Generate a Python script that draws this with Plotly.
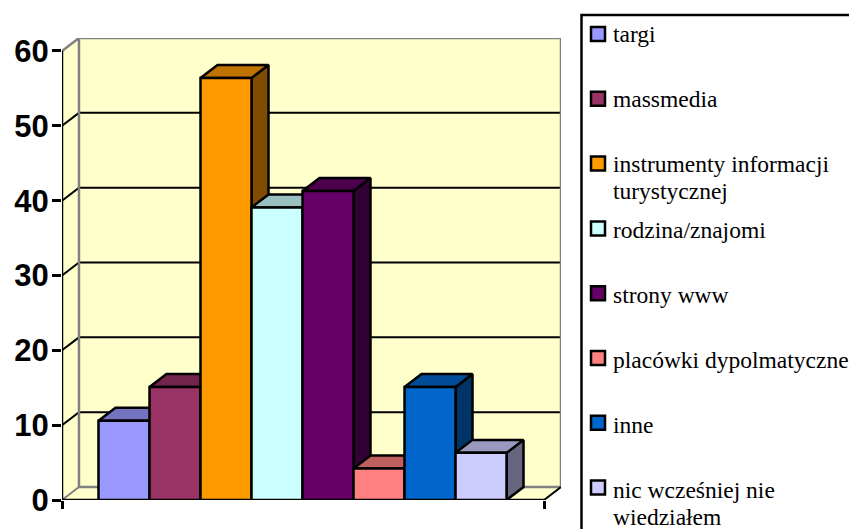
"""Polish survey 3D-look column chart with a hand-placed legend box."""

import plotly.graph_objects as go

W, H = 849, 529

CATEGORIES = [
    "targi",
    "massmedia",
    "instrumenty informacji<br>turystycznej",
    "rodzina/znajomi",
    "strony www",
    "placówki dypolmatyczne",
    "inne",
    "nic wcześniej nie<br>wiedziałem",
]
VALUES = [10.6, 15.1, 56.4, 39.1, 41.3, 4.2, 15.1, 6.3]
COLORS = ["#9999FF", "#993366", "#FF9900", "#CCFFFF", "#660066", "#FF8080", "#0066CC", "#CCCCFF"]
TICKS = [0, 10, 20, 30, 40, 50, 60]

WALL = "#FFFFCC"
EDGE = "#808080"

# scale of the drawing: 51 px per column, 7.5 px per unit
X_LEFT, X_RIGHT = -1.2157, 8.235
DEPTH_X, DEPTH_Y = 0.333, 1.733
Y_TOP = 60 + DEPTH_Y
PLOT_L, PLOT_R, PLOT_T, PLOT_B = 62, 561, 38, 500
OUTLINE = 2.5


def shade(color: str, k: float) -> str:
    r, g, b = (int(color[i : i + 2], 16) for i in (1, 3, 5))
    return f"rgb({r * k:.0f},{g * k:.0f},{b * k:.0f})"


def poly(fig, xs, ys, fill, line="#000000", width=OUTLINE):
    fig.add_trace(
        go.Scatter(
            x=xs + xs[:1],
            y=ys + ys[:1],
            mode="lines",
            fill="toself",
            fillcolor=fill,
            line=dict(color=line, width=width),
            cliponaxis=False,
            hoverinfo="skip",
            showlegend=False,
        )
    )


def stroke(fig, xs, ys, color="#000000", width=2):
    fig.add_trace(
        go.Scatter(
            x=xs,
            y=ys,
            mode="lines",
            line=dict(color=color, width=width),
            cliponaxis=False,
            hoverinfo="skip",
            showlegend=False,
        )
    )


fig = go.Figure()

back_l, back_r = X_LEFT + DEPTH_X, X_RIGHT + DEPTH_X

# walls and floor
poly(fig, [back_l, back_r, back_r, back_l], [DEPTH_Y, DEPTH_Y, Y_TOP, Y_TOP], WALL, WALL, 0)
poly(fig, [X_LEFT, back_l, back_l, X_LEFT], [0, DEPTH_Y, Y_TOP, 60], WALL, WALL, 0)
poly(fig, [X_LEFT, X_RIGHT, back_r, back_l], [0, 0, DEPTH_Y, DEPTH_Y], WALL, WALL, 0)

for t in TICKS[1:-1]:
    stroke(fig, [X_LEFT, back_l, back_r], [t, t + DEPTH_Y, t + DEPTH_Y])

stroke(fig, [X_LEFT, back_l, back_r, back_r, back_l, back_l], [60, Y_TOP, Y_TOP, DEPTH_Y, DEPTH_Y, Y_TOP], EDGE, 2.5)
stroke(fig, [X_LEFT, back_l], [0, DEPTH_Y], EDGE, 2)
stroke(fig, [X_RIGHT, back_r], [0, DEPTH_Y])
stroke(fig, [X_LEFT, X_LEFT], [0, 60], width=OUTLINE)
stroke(fig, [X_LEFT, X_RIGHT], [0, 0], width=OUTLINE)

# column sides and tops, painted left to right
for i, (v, c) in enumerate(zip(VALUES, COLORS)):
    l, r = i - 0.5, i + 0.5
    poly(fig, [r, r + DEPTH_X, r + DEPTH_X, r], [0, DEPTH_Y, v + DEPTH_Y, v], shade(c, 0.5))
    poly(fig, [l, r, r + DEPTH_X, l + DEPTH_X], [v, v, v + DEPTH_Y, v + DEPTH_Y], shade(c, 0.75))

# column fronts sit on an overlaid subplot so they cover the faces above
for i, (name, v, c) in enumerate(zip(CATEGORIES, VALUES, COLORS)):
    fig.add_trace(
        go.Bar(
            x=[i],
            y=[v],
            width=1,
            name=name.replace("<br>", " "),
            marker=dict(color=c, line=dict(color="#000000", width=OUTLINE)),
            xaxis="x2",
            yaxis="y2",
            showlegend=False,
        )
    )

# full-page axes in pixels carry the legend
fig.add_trace(go.Scatter(x=[None], y=[None], xaxis="x3", yaxis="y3", showlegend=False, hoverinfo="skip"))

# legend box runs off the page on the right and at the bottom
shapes = [
    dict(
        type="rect",
        xref="x3",
        yref="y3",
        x0=581.5,
        x1=W + 20,
        y0=15,
        y1=H + 20,
        line=dict(color="#000000", width=2.5),
        fillcolor="#FFFFFF",
        layer="below",
    )
]
annotations = []
for i, (name, c) in enumerate(zip(CATEGORIES, COLORS)):
    cy = 34 + 64.8 * i
    shapes.append(
        dict(
            type="rect",
            xref="x3",
            yref="y3",
            x0=591,
            x1=605,
            y0=cy - 7,
            y1=cy + 7,
            line=dict(color="#000000", width=2.5),
            fillcolor=c,
        )
    )
    for j, part in enumerate(name.split("<br>")):
        annotations.append(
            dict(
                xref="x3",
                yref="y3",
                x=612,
                y=34 + 65.2 * i + 27 * j,
                text=part,
                showarrow=False,
                xanchor="left",
                yanchor="middle",
                align="left",
                borderpad=0,
                font=dict(family="Liberation Serif", size=23.5, color="#000000"),
            )
        )

x_domain = [PLOT_L / W, PLOT_R / W]
y_domain = [1 - PLOT_B / H, 1 - PLOT_T / H]
x_range = [X_LEFT, back_r]
y_range = [0, Y_TOP]

fig.update_layout(
    width=W,
    height=H,
    margin=dict(l=0, r=0, t=0, b=0),
    paper_bgcolor="#FFFFFF",
    plot_bgcolor="rgba(0,0,0,0)",
    showlegend=False,
    shapes=shapes,
    annotations=annotations,
    xaxis=dict(
        domain=x_domain,
        range=x_range,
        automargin=False,
        showgrid=False,
        zeroline=False,
        showline=False,
        tickmode="array",
        tickvals=[X_LEFT, X_RIGHT],
        ticks="outside",
        ticklen=8,
        tickwidth=2.5,
        tickcolor="#000000",
        showticklabels=False,
    ),
    yaxis=dict(
        domain=y_domain,
        range=y_range,
        automargin=False,
        showgrid=False,
        zeroline=False,
        showline=False,
        tickmode="array",
        tickvals=TICKS,
        ticks="outside",
        ticklen=9,
        tickwidth=2.5,
        tickcolor="#000000",
        ticklabelstandoff=-3,
        tickfont=dict(family="Liberation Sans", size=31, color="#000000", weight=700),
    ),
    xaxis2=dict(domain=x_domain, range=x_range, overlaying="x", visible=False, automargin=False),
    yaxis2=dict(domain=y_domain, range=y_range, overlaying="y", visible=False, automargin=False),
    xaxis3=dict(domain=[0, 1], range=[0, W], visible=False, anchor="y3", automargin=False),
    yaxis3=dict(domain=[0, 1], range=[H, 0], visible=False, anchor="x3", automargin=False),
)

fig.write_html(
    "out.html",
    config={"displayModeBar": False},
    post_script="document.body.style.margin = '0';",
)
